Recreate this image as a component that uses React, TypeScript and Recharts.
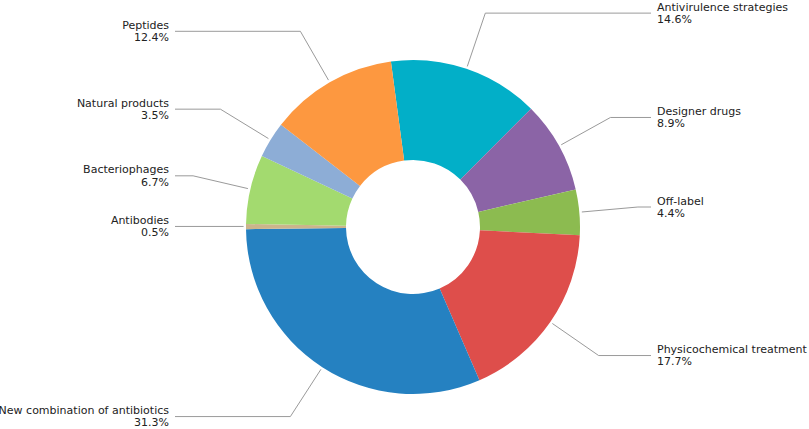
import React from 'react';
import { PieChart, Pie, Cell } from 'recharts';

const categories = [
  'Antivirulence strategies',
  'Designer drugs',
  'Off-label',
  'Physicochemical treatment',
  'New combination of antibiotics',
  'Antibodies',
  'Bacteriophages',
  'Natural products',
  'Peptides',
];
const shares = [14.6, 8.9, 4.4, 17.7, 31.3, 0.5, 6.7, 3.5, 12.4];
const colors = [
  '#02AFC8',
  '#8B64A6',
  '#8CBB50',
  '#DE4E4B',
  '#2581C1',
  '#CBB58C',
  '#A3DA6F',
  '#8DADD6',
  '#FD9840',
];

const data = categories.map((name, i) => ({ name, value: shares[i] }));

const RAD = Math.PI / 180;

const renderLabel = (props: any) => {
  const { cx, cy, midAngle, outerRadius, index } = props;
  const c = Math.cos(-midAngle * RAD);
  const s = Math.sin(-midAngle * RAD);
  const sx = cx + (outerRadius + 2.5) * c;
  const sy = cy + (outerRadius + 2.5) * s;
  const ly = cy + outerRadius * 1.352 * s;
  // elbow along the radial line at label height
  const t = s !== 0 ? (ly - cy) / s : outerRadius * 1.35;
  let ex = cx + t * c;
  const side = c >= 0 ? 1 : -1;
  if (Math.abs(s) < 0.02) ex = sx;
  const hx = cx + side * 238;
  const tx = cx + side * 244;
  return (
    <g key={`lbl-${index}`}>
      <polyline
        points={`${sx},${sy} ${ex},${ly} ${hx},${ly}`}
        fill="none"
        stroke="#9a9a9a"
        strokeWidth={1}
      />
      <text
        x={tx}
        y={ly - 2.5}
        textAnchor={side > 0 ? 'start' : 'end'}
        fontFamily="DejaVu Sans"
        fontSize={11}
        fill="#222"
      >
        {categories[index]}
      </text>
      <text
        x={tx}
        y={ly + 9.7}
        textAnchor={side > 0 ? 'start' : 'end'}
        fontFamily="DejaVu Sans"
        fontSize={11}
        fill="#222"
      >
        {shares[index].toFixed(1)}%
      </text>
    </g>
  );
};

export default function App() {
  return (
    <div style={{ position: 'absolute', left: 0, top: 0, width: 809, height: 429, background: '#fff' }}>
      <PieChart width={809} height={429} margin={{ top: 0, right: 0, bottom: 0, left: 0 }}>
        <Pie
          data={data}
          dataKey="value"
          nameKey="name"
          cx={413}
          cy={227}
          innerRadius={67}
          outerRadius={167}
          startAngle={97.6}
          endAngle={-262.4}
          stroke="none"
          label={renderLabel}
          labelLine={false}
          isAnimationActive={false}
        >
          {data.map((d, i) => (
            <Cell key={d.name} fill={colors[i]} />
          ))}
        </Pie>
      </PieChart>
    </div>
  );
}
